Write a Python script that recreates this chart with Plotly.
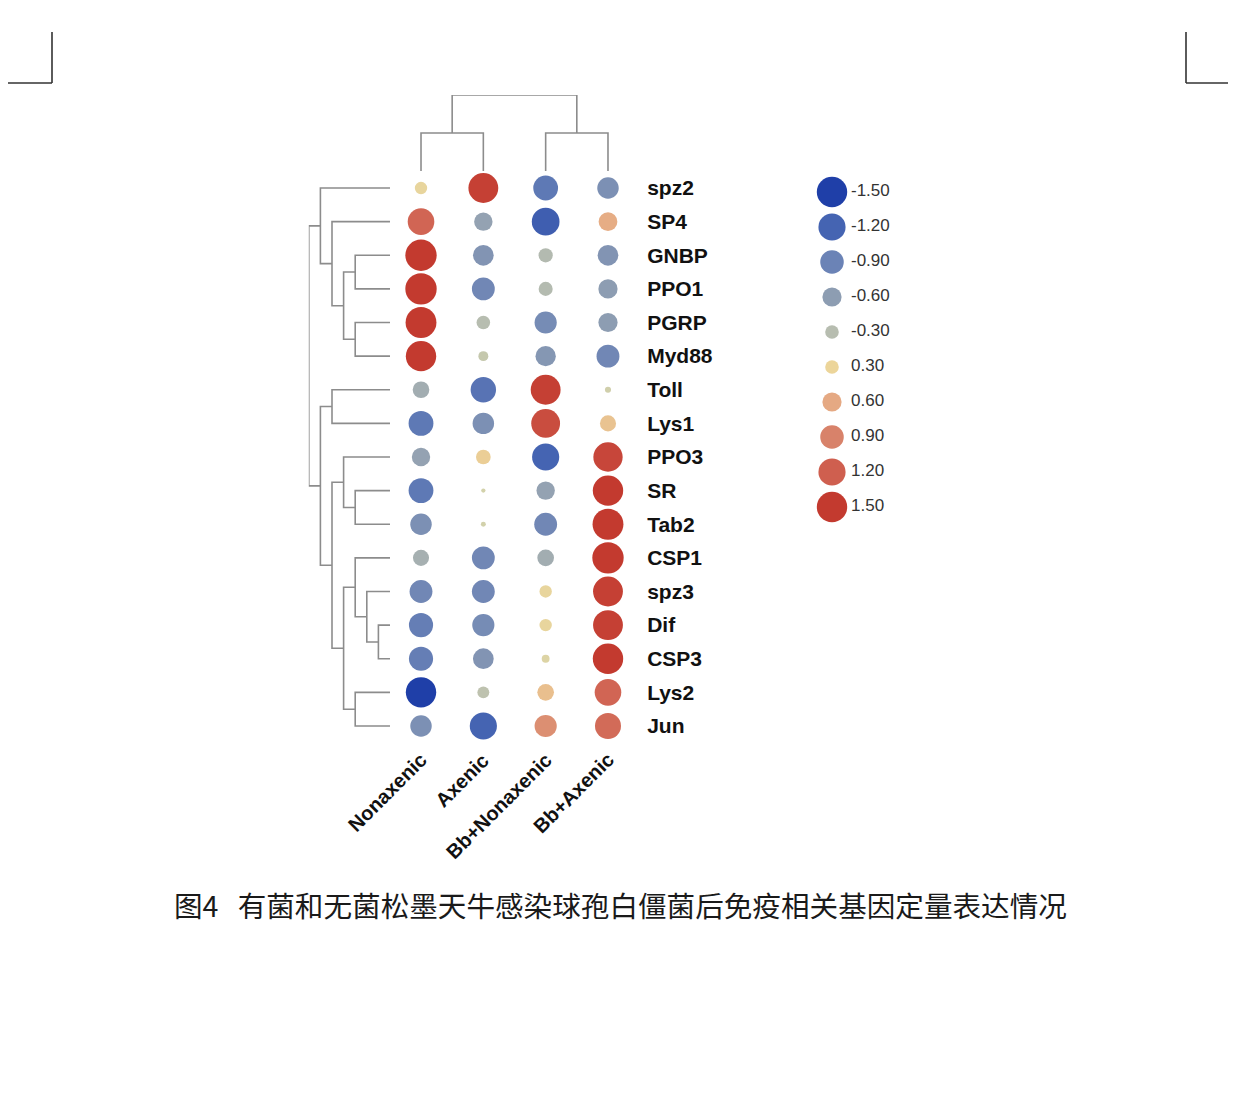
import numpy as np
import plotly.graph_objects as go

# ---------------- data ----------------
genes = ["spz2", "SP4", "GNBP", "PPO1", "PGRP", "Myd88", "Toll", "Lys1", "PPO3",
         "SR", "Tab2", "CSP1", "spz3", "Dif", "CSP3", "Lys2", "Jun"]
groups = ["Nonaxenic", "Axenic", "Bb+Nonaxenic", "Bb+Axenic"]

nonaxenic = [0.25, 1.15, 1.6, 1.6, 1.55, 1.5, -0.45, -1.0, -0.55, -1.0, -0.75,
             -0.42, -0.85, -0.95, -0.95, -1.5, -0.75]
axenic = [1.45, -0.55, -0.7, -0.85, -0.3, -0.16, -1.05, -0.75, 0.35, -0.03, -0.04,
          -0.85, -0.85, -0.8, -0.7, -0.23, -1.2]
bb_nonaxenic = [-1.0, -1.25, -0.33, -0.32, -0.8, -0.67, 1.45, 1.35, -1.2, -0.55, -0.85,
                -0.45, 0.25, 0.25, 0.1, 0.45, 0.8]
bb_axenic = [-0.75, 0.57, -0.7, -0.6, -0.6, -0.85, -0.06, 0.42, 1.4, 1.5, 1.55,
             1.6, 1.45, 1.45, 1.5, 1.15, 1.1]

legend_values = [-1.5, -1.2, -0.9, -0.6, -0.3, 0.3, 0.6, 0.9, 1.2, 1.5]

# dendrogram trees: (merge height, left, right)
row_tree = (7,
            (6, "spz2", (5, "SP4", (4, (3, "GNBP", "PPO1"), (3, "PGRP", "Myd88")))),
            (6, (5, "Toll", "Lys1"),
             (5, (4, "PPO3", (3, "SR", "Tab2")),
              (4, (3, "CSP1", (2, "spz3", (1, "Dif", "CSP3"))), (3, "Lys2", "Jun")))))
col_tree = (2, (1, "Nonaxenic", "Axenic"), (1, "Bb+Nonaxenic", "Bb+Axenic"))

# ---------------- style ----------------
colorscale = [
    [0.0, "#1f3fa8"], [0.1, "#4564b2"], [0.2, "#6b83b6"], [0.3, "#8d9db2"],
    [0.4, "#b7bdb0"], [0.5, "#d6d4aa"], [0.6, "#ecd59a"], [0.7, "#e5a983"],
    [0.8, "#d8826a"], [0.9, "#cf5f4f"], [1.0, "#c33a2f"],
]
W, H = 1220, 1100
OFF = 8
def px(x):
    return (x - OFF) / W
def py(y):
    return 1 - (y - OFF) / H

def size_of(v):
    return max(3.0, 24.8 * np.sqrt(abs(v)))

LINE = dict(color="#8c8c8c", width=1.6)
BOLD = "Liberation Sans, Arial, sans-serif"

fig = go.Figure()

# ---------------- bubbles ----------------
series = [nonaxenic, axenic, bb_nonaxenic, bb_axenic]
xs, ys, vs = [], [], []
for ci, vals in enumerate(series):
    for ri, v in enumerate(vals):
        xs.append(ci)
        ys.append(ri)
        vs.append(v)
fig.add_trace(go.Scatter(
    x=xs, y=ys, mode="markers", xaxis="x", yaxis="y",
    marker=dict(size=[size_of(v) for v in vs], color=vs, colorscale=colorscale,
                cmin=-1.5, cmax=1.5, line=dict(width=0), opacity=1),
    hoverinfo="skip", showlegend=False))

# ---------------- dendrograms ----------------
def dendro(tree, order, seg_a, seg_b):
    """returns (position, height); appends segments (pos coords, height coords)."""
    if isinstance(tree, str):
        return order.index(tree), 0.0
    h, left, right = tree
    pl, hl = dendro(left, order, seg_a, seg_b)
    pr, hr = dendro(right, order, seg_a, seg_b)
    seg_a += [pl, pl, pr, pr, None]
    seg_b += [hl, h, h, hr, None]
    return (pl + pr) / 2.0, h

rp, rh = [], []
dendro(row_tree, genes, rp, rh)
fig.add_trace(go.Scatter(x=rh, y=rp, mode="lines", xaxis="x2", yaxis="y",
                         line=LINE, hoverinfo="skip", showlegend=False))
cp, ch = [], []
dendro(col_tree, groups, cp, ch)
fig.add_trace(go.Scatter(x=cp, y=ch, mode="lines", xaxis="x", yaxis="y3",
                         line=LINE, hoverinfo="skip", showlegend=False))

# ---------------- size / colour key ----------------
li = list(range(len(legend_values)))
fig.add_trace(go.Scatter(
    x=[0.3] * len(li), y=li, mode="markers", xaxis="x4", yaxis="y4",
    marker=dict(size=[size_of(v) for v in legend_values], color=legend_values,
                colorscale=colorscale, cmin=-1.5, cmax=1.5, line=dict(width=0),
                opacity=1),
    cliponaxis=False, hoverinfo="skip", showlegend=False))
fig.add_trace(go.Scatter(
    x=[0.68] * len(li), y=li, mode="text", xaxis="x4", yaxis="y4",
    text=[f"{v:.2f}" for v in legend_values], textposition="middle right",
    textfont=dict(family="Liberation Sans, Arial, sans-serif", size=17, color="#333333"),
    cliponaxis=False, hoverinfo="skip", showlegend=False))

# ---------------- axes ----------------
hidden = dict(showgrid=False, zeroline=False, showticklabels=False, ticks="",
              showline=False, fixedrange=True)
main_ydom = [py(742.8), py(171.2)]
fig.update_layout(
    width=W, height=H, margin=dict(l=0, r=0, t=0, b=0),
    paper_bgcolor="white", plot_bgcolor="rgba(0,0,0,0)",
    xaxis=dict(domain=[px(389.85), px(639.15)], range=[-0.5, 3.5], anchor="y", **hidden),
    yaxis=dict(domain=main_ydom, range=[16.5, -0.5], anchor="x", side="right",
               showgrid=False, zeroline=False, showline=False, ticks="",
               tickmode="array", tickvals=list(range(len(genes))), ticktext=genes,
               tickfont=dict(family=BOLD, size=21, color="#111111", weight="bold"),
               ticklabelstandoff=7, fixedrange=True),
    xaxis2=dict(domain=[px(308.8), px(390.0)], range=[7, 0], anchor="y", **hidden),
    yaxis3=dict(domain=[py(171.0), py(95.0)], range=[0, 2], anchor="x", **hidden),
    xaxis4=dict(domain=[px(817), px(867)], range=[0, 1], anchor="y4", **hidden),
    yaxis4=dict(domain=[py(524.5), py(174.5)], range=[9.5, -0.5], anchor="x4", **hidden),
)

# column labels
for i, g in enumerate(groups):
    fig.add_annotation(text=g, xref="x", x=i, yref="paper", y=py(746),
                       xanchor="right", yanchor="top", textangle=-45, showarrow=False,
                       xshift=13,
                       font=dict(family=BOLD, size=20, color="#111111", weight="bold"))

# caption
fig.add_annotation(
    text="图4\u00a0\u00a0\u00a0有菌和无菌松墨天牛感染球孢白僵菌后免疫相关基因定量表达情况",
    xref="paper", yref="paper", x=px(620), y=py(904), xanchor="center", yanchor="middle",
    showarrow=False, font=dict(family="Noto Sans CJK SC", size=28.6, color="#1a1a1a"))

# page crop marks
mark = dict(color="#333333", width=1.6)
for (x0, y0, x1, y1) in [(52, 32, 52, 83), (2, 83, 52, 83),
                         (1186, 32, 1186, 83), (1186, 83, 1236, 83)]:
    fig.add_shape(type="line", xref="paper", yref="paper",
                  x0=px(x0), y0=py(y0), x1=px(x1), y1=py(y1), line=mark)

fig.write_html("out.html")
